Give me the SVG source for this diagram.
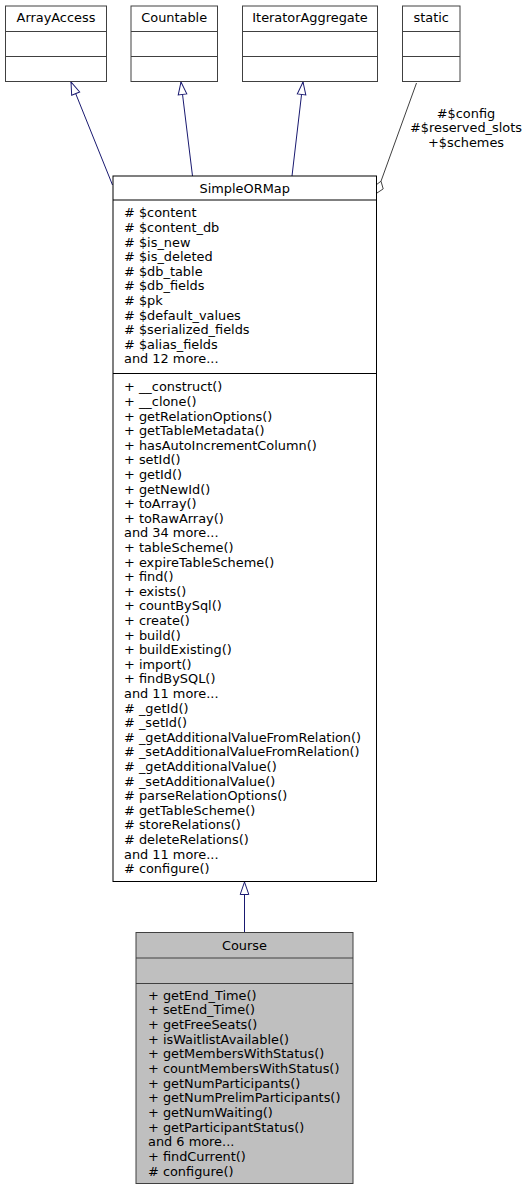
<svg xmlns="http://www.w3.org/2000/svg" width="529" height="1191" viewBox="0 0 529 1191">
<style>
text{font-family:"DejaVu Sans","Liberation Sans",sans-serif;font-size:12.9px;fill:#000}
.t{text-anchor:middle}
.box{fill:#fff;stroke:#404040;stroke-width:1}
.main{fill:#fff;stroke:#000;stroke-width:1}
.cur{fill:#bfbfbf;stroke:#404040;stroke-width:1}
.sep{stroke:#404040;stroke-width:1}
.sepm{stroke:#000;stroke-width:1}
.inh{fill:none;stroke:#191970;stroke-width:1;marker-end:url(#tri)}
.use{fill:none;stroke:#404040;stroke-width:1}
</style>
<defs>
<marker id="tri" markerUnits="userSpaceOnUse" markerWidth="14" markerHeight="10" viewBox="0 0 14 10" refX="13" refY="5" orient="auto" overflow="visible">
<polygon points="0.5,0.7 13,5 0.5,9.3" fill="#fff" stroke="#191970" stroke-width="1"/>
</marker>
</defs>
<g id="connectors">
<path class="inh" d="M112.5,185 L71,82"/>
<path class="inh" d="M192.5,176 L181,82"/>
<path class="inh" d="M292,176 L303,82"/>
<path class="use" d="M381,181.2 L416.5,83"/>
<polygon points="377,193 383.2,188.9 381,181.2 374.8,185.9" fill="#fff" stroke="#404040" stroke-width="1"/>
<text class="t" x="466" y="117.7">#$config</text>
<text class="t" x="466" y="132.3">#$reserved_slots</text>
<text class="t" x="466" y="146.7">+$schemes</text>
<path class="inh" d="M244.5,932 L244.5,882"/>
</g>
<g id="ArrayAccess">
<rect class="box" x="5.5" y="6" width="101" height="75.5"/>
<line class="sep" x1="5.5" y1="31.5" x2="106.5" y2="31.5"/>
<line class="sep" x1="5.5" y1="56.5" x2="106.5" y2="56.5"/>
<text class="t" x="56" y="22">ArrayAccess</text>
</g>
<g id="Countable">
<rect class="box" x="131" y="6" width="86.5" height="75.5"/>
<line class="sep" x1="131" y1="31.5" x2="217.5" y2="31.5"/>
<line class="sep" x1="131" y1="56.5" x2="217.5" y2="56.5"/>
<text class="t" x="174.2" y="22">Countable</text>
</g>
<g id="IteratorAggregate">
<rect class="box" x="242.5" y="6" width="135" height="75.5"/>
<line class="sep" x1="242.5" y1="31.5" x2="377.5" y2="31.5"/>
<line class="sep" x1="242.5" y1="56.5" x2="377.5" y2="56.5"/>
<text class="t" x="310" y="22">IteratorAggregate</text>
</g>
<g id="static">
<rect class="box" x="402.5" y="6" width="57.5" height="75.5"/>
<line class="sep" x1="402.5" y1="31.5" x2="460" y2="31.5"/>
<line class="sep" x1="402.5" y1="56.5" x2="460" y2="56.5"/>
<text class="t" x="431.2" y="22">static</text>
</g>
<g id="SimpleORMap">
<rect class="main" x="113" y="176" width="263.5" height="705.5"/>
<line class="sepm" x1="113" y1="200" x2="376.5" y2="200"/>
<line class="sepm" x1="113" y1="373.5" x2="376.5" y2="373.5"/>
<text class="t" x="244.7" y="192.7">SimpleORMap</text>
<text x="124" y="217.3"><tspan x="124"># $content</tspan><tspan x="124" dy="14.6"># $content_db</tspan><tspan x="124" dy="14.6"># $is_new</tspan><tspan x="124" dy="14.6"># $is_deleted</tspan><tspan x="124" dy="14.6"># $db_table</tspan><tspan x="124" dy="14.6"># $db_fields</tspan><tspan x="124" dy="14.6"># $pk</tspan><tspan x="124" dy="14.6"># $default_values</tspan><tspan x="124" dy="14.6"># $serialized_fields</tspan><tspan x="124" dy="14.6"># $alias_fields</tspan><tspan x="124" dy="14.6">and 12 more...</tspan></text>
<text x="124" y="391.3"><tspan x="124">+ __construct()</tspan><tspan x="124" dy="14.6">+ __clone()</tspan><tspan x="124" dy="14.6">+ getRelationOptions()</tspan><tspan x="124" dy="14.6">+ getTableMetadata()</tspan><tspan x="124" dy="14.6">+ hasAutoIncrementColumn()</tspan><tspan x="124" dy="14.6">+ setId()</tspan><tspan x="124" dy="14.6">+ getId()</tspan><tspan x="124" dy="14.6">+ getNewId()</tspan><tspan x="124" dy="14.6">+ toArray()</tspan><tspan x="124" dy="14.6">+ toRawArray()</tspan><tspan x="124" dy="14.6">and 34 more...</tspan><tspan x="124" dy="14.6">+ tableScheme()</tspan><tspan x="124" dy="14.6">+ expireTableScheme()</tspan><tspan x="124" dy="14.6">+ find()</tspan><tspan x="124" dy="14.6">+ exists()</tspan><tspan x="124" dy="14.6">+ countBySql()</tspan><tspan x="124" dy="14.6">+ create()</tspan><tspan x="124" dy="14.6">+ build()</tspan><tspan x="124" dy="14.6">+ buildExisting()</tspan><tspan x="124" dy="14.6">+ import()</tspan><tspan x="124" dy="14.6">+ findBySQL()</tspan><tspan x="124" dy="14.6">and 11 more...</tspan><tspan x="124" dy="14.6"># _getId()</tspan><tspan x="124" dy="14.6"># _setId()</tspan><tspan x="124" dy="14.6"># _getAdditionalValueFromRelation()</tspan><tspan x="124" dy="14.6"># _setAdditionalValueFromRelation()</tspan><tspan x="124" dy="14.6"># _getAdditionalValue()</tspan><tspan x="124" dy="14.6"># _setAdditionalValue()</tspan><tspan x="124" dy="14.6"># parseRelationOptions()</tspan><tspan x="124" dy="14.6"># getTableScheme()</tspan><tspan x="124" dy="14.6"># storeRelations()</tspan><tspan x="124" dy="14.6"># deleteRelations()</tspan><tspan x="124" dy="14.6">and 11 more...</tspan><tspan x="124" dy="14.6"># configure()</tspan></text>
</g>
<g id="Course">
<rect class="cur" x="136" y="932.5" width="217" height="251"/>
<line class="sep" x1="136" y1="958" x2="353" y2="958"/>
<line class="sep" x1="136" y1="983.5" x2="353" y2="983.5"/>
<text class="t" x="244.5" y="949.7">Course</text>
<text x="148" y="999.7"><tspan x="148">+ getEnd_Time()</tspan><tspan x="148" dy="14.67">+ setEnd_Time()</tspan><tspan x="148" dy="14.67">+ getFreeSeats()</tspan><tspan x="148" dy="14.67">+ isWaitlistAvailable()</tspan><tspan x="148" dy="14.67">+ getMembersWithStatus()</tspan><tspan x="148" dy="14.67">+ countMembersWithStatus()</tspan><tspan x="148" dy="14.67">+ getNumParticipants()</tspan><tspan x="148" dy="14.67">+ getNumPrelimParticipants()</tspan><tspan x="148" dy="14.67">+ getNumWaiting()</tspan><tspan x="148" dy="14.67">+ getParticipantStatus()</tspan><tspan x="148" dy="14.67">and 6 more...</tspan><tspan x="148" dy="14.67">+ findCurrent()</tspan><tspan x="148" dy="14.67"># configure()</tspan></text>
</g>
</svg>
